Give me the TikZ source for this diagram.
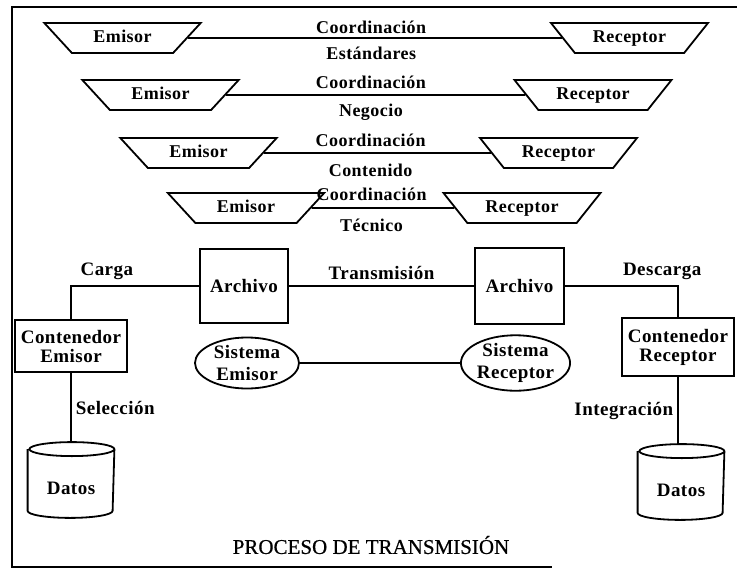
\documentclass[tikz,border=0pt]{standalone}
\usepackage{fontspec}
\setmainfont{Liberation Serif}
\newfontfamily\lblfont{Liberation Serif}[LetterSpace=2.5]
\newfontfamily\titlefont{Liberation Serif}[FakeBold=0.6]
\usetikzlibrary{shapes.geometric}
\begin{document}
\begin{tikzpicture}[x=1pt,y=-1pt,
  line width=1.8pt,
  lbl/.style={font=\lblfont\bfseries\fontsize{18}{20}\selectfont, inner sep=1pt},
  lbltwo/.style={font=\lblfont\bfseries\fontsize{19}{19}\selectfont, inner sep=1pt},
  trap/.style={trapezium, draw, shape border rotate=180, trapezium angle=46,
    trapezium stretches=true, minimum width=157pt, minimum height=30pt,
    inner sep=2pt, text height=12pt, text depth=3pt, lbl},
  box/.style={draw, rectangle, lbltwo, align=center, inner sep=2pt},
  sys/.style={draw, ellipse, lbltwo, align=center, inner sep=0pt},
  store/.style={rectangle, minimum width=85pt, minimum height=74pt, inner sep=0pt},
]
\useasboundingbox (0,0) rectangle (737,579);

% frame
\draw[line width=1.8pt] (737,7) -- (12,7) -- (12,567) -- (552,567);

% coordination layers
\node[trap] (E1) at (122.5,38) {Emisor};
\node[trap] (R1) at (629.5,38) {Receptor};
\node[trap] (E2) at (160.5,95) {Emisor};
\node[trap] (R2) at (593,95) {Receptor};
\node[trap] (E3) at (198.5,153) {Emisor};
\node[trap] (R3) at (558.5,153) {Receptor};
\node[trap] (E4) at (246,208) {Emisor};
\node[trap] (R4) at (522,208) {Receptor};

\draw (E1.east) -- node[pos=0.49, above=2pt, lbl] (c1) {Coordinación}
                   node[pos=0.49, below=7pt, lbl] (s1) {Estándares} (R1.west);
\draw (E2.east) -- node[pos=0.484, above=4pt, lbl] (c2) {Coordinación}
                   node[pos=0.484, below=7pt, lbl] (s2) {Negocio} (R2.west);
\draw (E3.east) -- node[pos=0.47, above=4pt, lbl] (c3) {Coordinación}
                   node[pos=0.47, below=9pt, lbl] (s3) {Contenido} (R3.west);
\draw (E4.east) -- node[pos=0.42, above=5pt, lbl] (c4) {Coordinación}
                   node[pos=0.42, below=9pt, lbl] (s4) {Técnico} (R4.west);

% transmission
\node[box, minimum width=88pt, minimum height=74pt] (AL) at (244,286) {Archivo};
\node[box, minimum width=89pt, minimum height=76pt] (AR) at (519.5,286) {Archivo};
\node[box, minimum width=112pt, minimum height=52pt] (CE) at (71,346) {Contenedor\\Emisor};
\node[box, minimum width=112pt, minimum height=58pt] (CR) at (678,347) {Contenedor\\Receptor};
\node[sys, minimum width=104pt, minimum height=51pt] (SE) at (247,363) {Sistema\\[3pt]Emisor};
\node[sys, minimum width=103pt, minimum height=55pt] (SR) at (515.5,363) {Sistema\\[3pt]Receptor};

% data stores (cylinders)
\node[store] (D1) at (71,480) {};
\node[store] (D2) at (681,482) {};
\foreach \d in {D1,D2}{
  \draw ([yshift=-7pt]\d.north west) -- ([yshift=7pt]\d.south west)
    arc[start angle=180, end angle=360, x radius=42.5pt, y radius=7pt]
    -- ([yshift=-7pt]\d.north east)
    arc[start angle=0, end angle=360, x radius=42.5pt, y radius=7pt];
}
\node[lbltwo] (D1t) at ([yshift=-8pt]D1.center) {Datos};
\node[lbltwo] (D2t) at ([yshift=-8pt]D2.center) {Datos};

% connectors
\draw (AL.east) -- node[above=4pt, lbltwo] (tr) {Transmisión} (AR.west);
\draw (AL.west) -| node[pos=0.36, above=4pt, lbltwo] (ca) {Carga} (CE.north);
\draw (AR.east) -| node[pos=0.43, above=4pt, lbltwo] (de) {Descarga} (CR.north);
\draw (CE.south) -- node[right=3pt, lbltwo] (se) {Selección} (CE.south |- D1.north);
\draw (CR.south) -- node[left=3pt, lbltwo] (in) {Integración} (CR.south |- D2.north);
\draw (SE.east) -- (SR.west);

% caption
\node[font=\titlefont\fontsize{21}{24}\selectfont] (title) at (371,545) {PROCESO DE TRANSMISIÓN};
\end{tikzpicture}
\end{document}
